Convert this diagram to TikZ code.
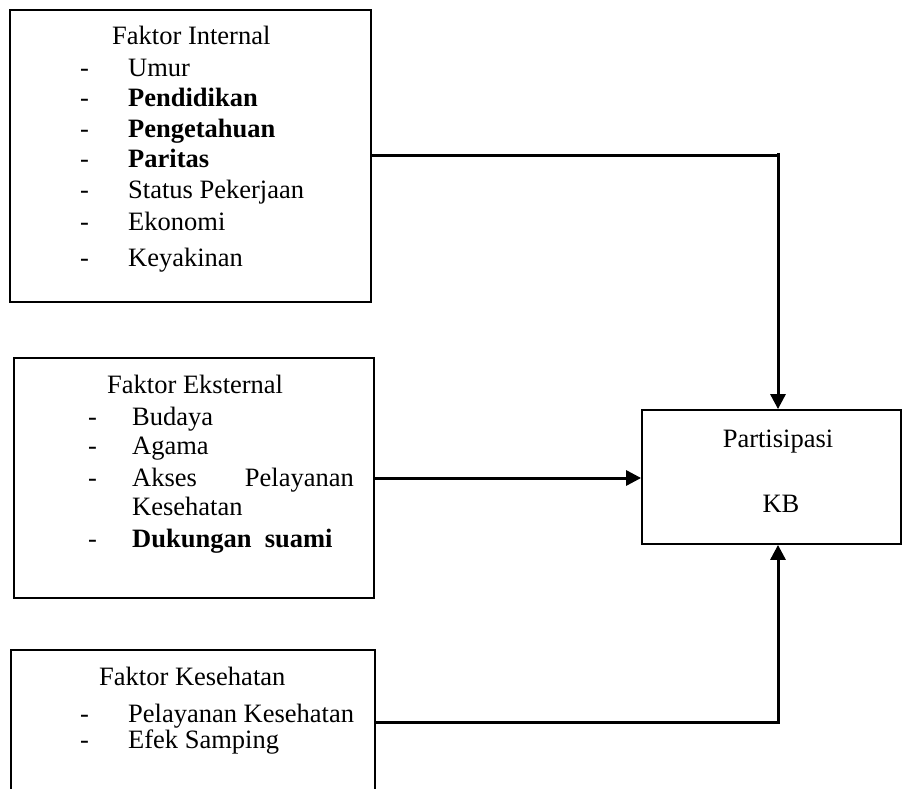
\documentclass[tikz,border=0pt]{standalone}
\usepackage{fontspec}
\setmainfont{Liberation Serif}
\usetikzlibrary{arrows.meta}
\begin{document}
\begin{tikzpicture}[x=1pt,y=-1pt,
  box/.style={draw,line width=1.8pt,rectangle,inner sep=0pt},
  txt/.style={anchor=base west,inner sep=0pt,font=\fontsize{26.5}{30}\selectfont},
  ctxt/.style={anchor=base,inner sep=0pt,font=\fontsize{26.5}{30}\selectfont},
  arr/.style={line width=3pt,-{Triangle[length=15pt,width=15pt]}}]
\useasboundingbox (0,0) rectangle (903,789);
% boxes
\node[box,minimum width=361pt,minimum height=292pt] (int) at (190.5,156) {};
\node[box,minimum width=360pt,minimum height=240pt] (ext) at (194,478) {};
\node[box,minimum width=364pt,minimum height=180pt] (kes) at (193,740) {};
\node[box,minimum width=259pt,minimum height=134pt] (kb) at (771.5,477) {};
% internal
\node[txt] (t1) at (112,45) {Faktor Internal};
\node[txt] (d11) at (80,77) {-};  \node[txt] (i11) at (128,77) {Umur};
\node[txt] (d12) at (80,107) {-}; \node[txt] (i12) at (128,107) {\textbf{Pendidikan}};
\node[txt] (d13) at (80,138) {-}; \node[txt] (i13) at (128,138) {\textbf{Pengetahuan}};
\node[txt] (d14) at (80,168) {-}; \node[txt] (i14) at (128,168) {\textbf{Paritas}};
\node[txt] (d15) at (80,199) {-}; \node[txt] (i15) at (128,199) {Status Pekerjaan};
\node[txt] (d16) at (80,230) {-}; \node[txt] (i16) at (128,230) {Ekonomi};
\node[txt] (d17) at (80,266) {-}; \node[txt] (i17) at (128,266) {Keyakinan};
% external
\node[txt] (t2) at (107,393) {Faktor Eksternal};
\node[txt] (d21) at (88,425) {-}; \node[txt] (i21) at (132,425) {Budaya};
\node[txt] (d22) at (88,454) {-}; \node[txt] (i22) at (132,454) {Agama};
\node[txt] (d23) at (88,486) {-}; \node[txt] (i23) at (132,486) {Akses};
\node[txt,anchor=base east] (i23b) at (354,486) {Pelayanan};
\node[txt] (i24) at (132,515) {Kesehatan};
\node[txt] (d25) at (88,547) {-}; \node[txt] (i25) at (132,547) {\textbf{Dukungan\ \ suami}};
% kesehatan
\node[txt] (t3) at (99,685) {Faktor Kesehatan};
\node[txt] (d31) at (80,722) {-}; \node[txt] (i31) at (128,722) {Pelayanan Kesehatan};
\node[txt] (d32) at (80,748) {-}; \node[txt] (i32) at (128,748) {Efek Samping};
% KB
\node[ctxt] (p1) at (778,447) {Partisipasi};
\node[ctxt] (p2) at (781,512) {KB};
% connectors
\coordinate (j) at (778,0);
\draw[line width=3pt] (j |- 0,153) -- (j |- int.east);
\draw[arr] (int.east) -| (j |- kb.north);
\draw[arr] (ext.east) -- (ext.east -| kb.west);
\draw[arr] ([yshift=18pt]kes.east) -| (j |- kb.south);
\end{tikzpicture}
\end{document}
